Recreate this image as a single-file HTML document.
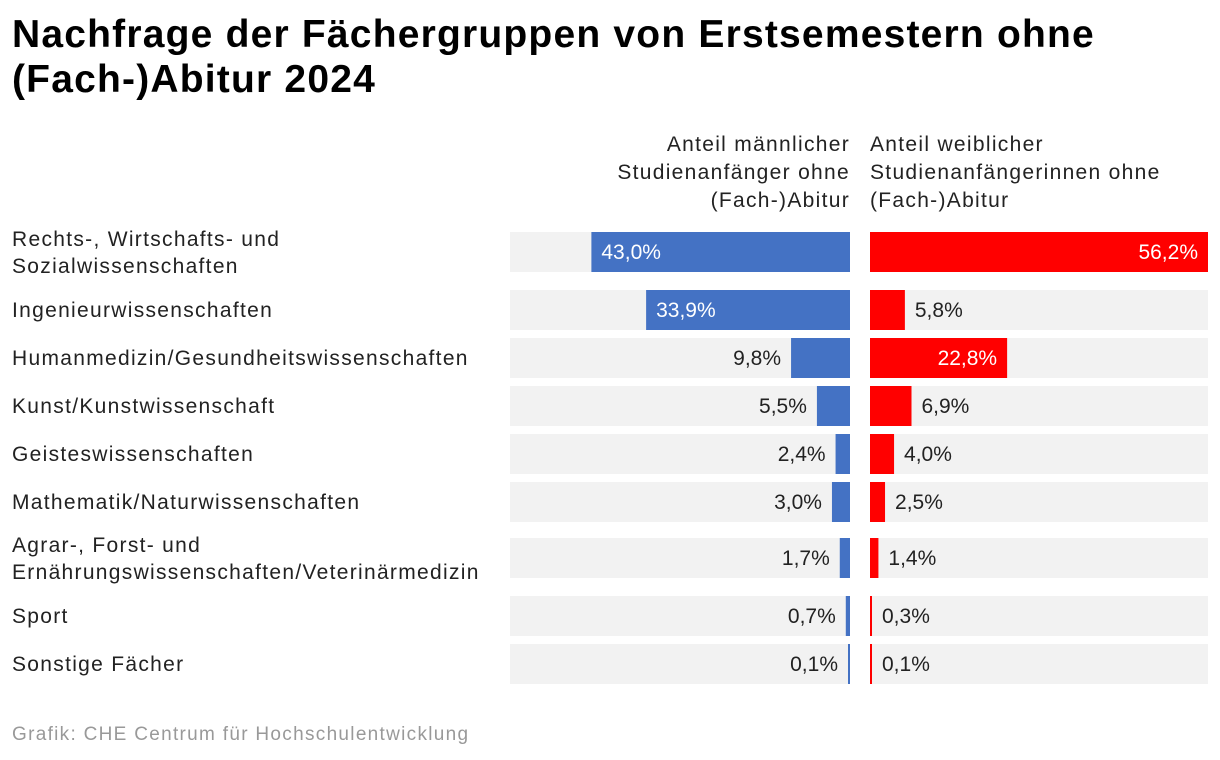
<!DOCTYPE html>
<html><head><meta charset="utf-8"><style>
body{margin:0;width:1220px;height:760px;background:#fff;font-family:"Liberation Sans",sans-serif;overflow:hidden;position:relative}
h1{position:absolute;left:12px;top:12px;margin:0;font-size:39px;line-height:45px;font-weight:bold;color:#000;letter-spacing:1.2px}
.hdr{position:absolute;top:131px;font-size:21px;line-height:28px;color:#222;letter-spacing:1.3px;white-space:nowrap}
.src{position:absolute;left:12px;top:724px;font-size:19px;color:#999;letter-spacing:1.3px}
</style></head><body>
<h1>Nachfrage der Fächergruppen von Erstsemestern ohne<br>(Fach-)Abitur 2024</h1>
<div class="hdr" style="right:370px;text-align:right">Anteil männlicher<br>Studienanfänger ohne<br>(Fach-)Abitur</div>
<div class="hdr" style="left:870px">Anteil weiblicher<br>Studienanfängerinnen ohne<br>(Fach-)Abitur</div>
<svg id="c" width="1220" height="760" style="position:absolute;left:0;top:0"></svg>
<div class="src">Grafik: CHE Centrum für Hochschulentwicklung</div>
<script>
const categories=[["Rechts-, Wirtschafts- und","Sozialwissenschaften"],["Ingenieurwissenschaften"],["Humanmedizin/Gesundheitswissenschaften"],["Kunst/Kunstwissenschaft"],["Geisteswissenschaften"],["Mathematik/Naturwissenschaften"],["Agrar-, Forst- und","Ernährungswissenschaften/Veterinärmedizin"],["Sport"],["Sonstige Fächer"]];
const maleValues=[43.0,33.9,9.8,5.5,2.4,3.0,1.7,0.7,0.1];
const femaleValues=[56.2,5.8,22.8,6.9,4.0,2.5,1.4,0.3,0.1];
const rowTops=[232,290,338,386,434,482,538,596,644];
const svg=document.getElementById('c');const NS='http://www.w3.org/2000/svg';
const maxV=56.2,W=338;
const sx=v=>v/maxV*W;
function mk(t,a){const e=document.createElementNS(NS,t);for(const k in a)e.setAttribute(k,a[k]);svg.appendChild(e);return e;}
const fmt=v=>v.toFixed(1).replace('.',',')+'%';
categories.forEach((c,i)=>{
  const y=rowTops[i],h=40,cy=y+20;
  const lab=mk('text',{x:12,y:c.length>1?cy-6:cy+7,'font-size':21,fill:'#222','letter-spacing':1.3});
  
  
  c.forEach((l,j)=>{const ts=document.createElementNS(NS,'tspan');ts.setAttribute('x',12);if(j)ts.setAttribute('dy',27);ts.textContent=l;lab.appendChild(ts);});
  const bg1=mk('rect',{x:510,y:y,width:340,height:h,fill:'#f2f2f2'});
  
  
  const bg2=mk('rect',{x:870,y:y,width:338,height:h,fill:'#f2f2f2'});
  
  
  const mw=Math.max(sx(maleValues[i]),2);
  const mb=mk('rect',{x:850-mw,y:y,width:mw,height:h,fill:'#4472c4'});
  
  
  const fw=Math.max(sx(femaleValues[i]),2);
  const fb=mk('rect',{x:870,y:y,width:fw,height:h,fill:'#ff0000'});
  
  
  const mIn=mw>80;
  const mt=mk('text',{x:mIn?850-mw+10:850-mw-10,y:cy+7,'font-size':21,fill:mIn?'#fff':'#222','text-anchor':mIn?'start':'end'});
  mt.textContent=fmt(maleValues[i]);
  
  
  const fIn=fw>80;
  const ft=mk('text',{x:fIn?870+fw-10:870+fw+10,y:cy+7,'font-size':21,fill:fIn?'#fff':'#222','text-anchor':fIn?'end':'start'});
  ft.textContent=fmt(femaleValues[i]);
  
  
});
</script>
</body></html>
